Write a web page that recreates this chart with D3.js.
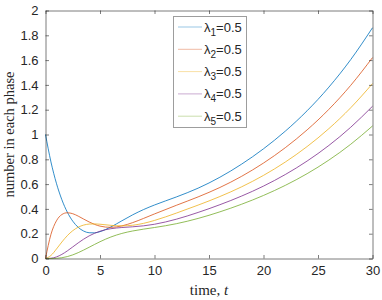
<!DOCTYPE html>
<html>
<head>
<meta charset="utf-8">
<script src="https://cdn.jsdelivr.net/npm/d3@7"></script>
<style>
  body { margin: 0; background: #fff; }
  svg { display: block; }
</style>
</head>
<body>
<svg id="chart" width="382" height="300"></svg>
<script>
// time points, t
var times = [0, 0.5, 1, 1.5, 2, 2.5, 3, 3.5, 4, 4.5, 5, 6, 7, 8, 9, 10, 12, 14, 16, 18, 20, 22, 24, 26, 28, 30];

// number in each phase
var phase1 = [1, 0.7788, 0.6069, 0.4742, 0.3740, 0.3011, 0.2514, 0.2213, 0.2077, 0.2069, 0.2166, 0.2547, 0.3037, 0.3522, 0.3949, 0.4315, 0.4961, 0.5672, 0.6554, 0.7614, 0.8847, 1.0269, 1.1913, 1.3821, 1.6037, 1.8608];
var phase2 = [0, 0.1947, 0.3033, 0.3545, 0.3689, 0.3612, 0.3418, 0.3180, 0.2948, 0.2752, 0.2611, 0.2511, 0.2628, 0.2894, 0.3234, 0.3595, 0.4289, 0.4968, 0.5728, 0.6631, 0.7697, 0.8936, 1.0371, 1.2032, 1.3961, 1.6200];
var phase3 = [0, 0.0243, 0.0758, 0.1329, 0.1841, 0.2244, 0.2525, 0.2696, 0.2776, 0.2790, 0.2764, 0.2675, 0.2629, 0.2682, 0.2836, 0.3070, 0.3660, 0.4306, 0.4998, 0.5783, 0.6703, 0.7778, 0.9027, 1.0475, 1.2154, 1.4103];
var phase4 = [0, 0.0020, 0.0126, 0.0332, 0.0613, 0.0933, 0.1258, 0.1560, 0.1822, 0.2035, 0.2200, 0.2403, 0.2498, 0.2557, 0.2636, 0.2762, 0.3169, 0.3715, 0.4339, 0.5038, 0.5840, 0.6772, 0.7858, 0.9119, 1.0581, 1.2277];
var phase5 = [0, 0.0001, 0.0016, 0.0062, 0.0153, 0.0292, 0.0471, 0.0681, 0.0906, 0.1134, 0.1353, 0.1734, 0.2020, 0.2220, 0.2368, 0.2499, 0.2805, 0.3231, 0.3763, 0.4380, 0.5085, 0.5898, 0.6841, 0.7938, 0.9211, 1.0688];

var legendSub = ["1", "2", "3", "4", "5"];
var legendValue = "=0.5";

var xTicks = [0, 5, 10, 15, 20, 25, 30];
var yTicks = [0, 0.2, 0.4, 0.6, 0.8, 1, 1.2, 1.4, 1.6, 1.8, 2];

var colors = ["#0072BD", "#D95319", "#EDB120", "#7E2F8E", "#77AC30"];
var series = [phase1, phase2, phase3, phase4, phase5];

var svg = d3.select("#chart");
var axisColor = "#262626";

var x = d3.scaleLinear().domain([0, 30]).range([45.5, 372.5]);
var y = d3.scaleLinear().domain([0, 2]).range([258.5, 10.5]);

// curves
var line = d3.line()
    .x(function(d, i) { return x(times[i]); })
    .y(function(d) { return y(d); })
    .curve(d3.curveMonotoneX);

svg.append("g").selectAll("path")
    .data(series)
    .enter().append("path")
    .attr("d", line)
    .attr("fill", "none")
    .attr("stroke", function(d, i) { return colors[i]; })
    .attr("stroke-opacity", 0.8)
    .attr("stroke-width", 1);

// axes, ticks pointing inward like matlab
function styleAxis(g) {
    g.select(".domain").attr("stroke", axisColor).attr("stroke-opacity", 0.6);
    g.selectAll(".tick line").attr("stroke", axisColor).attr("stroke-opacity", 0.6);
    g.selectAll(".tick text")
        .attr("fill", axisColor)
        .style("font-family", "'Liberation Sans', Arial, sans-serif")
        .style("font-size", "13px");
}

svg.append("g")
    .attr("transform", "translate(0," + y(0) + ")")
    .call(d3.axisBottom(x).tickValues(xTicks).tickFormat(d3.format("d"))
        .tickSizeInner(-3.5).tickSizeOuter(0).tickPadding(7))
    .call(styleAxis);

svg.append("g")
    .attr("transform", "translate(0," + y(2) + ")")
    .call(d3.axisTop(x).tickValues(xTicks).tickFormat("")
        .tickSizeInner(-3.5).tickSizeOuter(0))
    .call(styleAxis);

svg.append("g")
    .attr("transform", "translate(" + x(0) + ",0)")
    .call(d3.axisLeft(y).tickValues(yTicks).tickFormat(d3.format("~g"))
        .tickSizeInner(-3.5).tickSizeOuter(0).tickPadding(7))
    .call(styleAxis);

svg.append("g")
    .attr("transform", "translate(" + x(30) + ",0)")
    .call(d3.axisRight(y).tickValues(yTicks).tickFormat("")
        .tickSizeInner(-3.5).tickSizeOuter(0))
    .call(styleAxis);

// axis titles
svg.append("text")
    .attr("x", (x(0) + x(30)) / 2)
    .attr("y", 295)
    .attr("text-anchor", "middle")
    .attr("fill", axisColor)
    .style("font-family", "'Liberation Serif', 'Times New Roman', serif")
    .style("font-size", "15px")
    .text("time, ")
    .append("tspan")
    .style("font-style", "italic")
    .text("t");

svg.append("text")
    .attr("transform", "translate(13.5," + (y(0) + y(2)) / 2 + ") rotate(-90)")
    .attr("text-anchor", "middle")
    .attr("fill", axisColor)
    .style("font-family", "'Liberation Serif', 'Times New Roman', serif")
    .style("font-size", "14.5px")
    .text("number in each phase");

// legend
var legend = svg.append("g");
legend.append("rect")
    .attr("x", 173.5).attr("y", 16.5)
    .attr("width", 73).attr("height", 111)
    .attr("fill", "#fff")
    .attr("stroke", axisColor)
    .attr("stroke-opacity", 0.45);

var rows = legend.selectAll("g.row")
    .data(legendSub)
    .enter().append("g")
    .attr("class", "row")
    .attr("transform", function(d, i) { return "translate(0," + (27 + i * 22.3) + ")"; });

rows.append("line")
    .attr("x1", 178).attr("x2", 202)
    .attr("y1", 0).attr("y2", 0)
    .attr("stroke", function(d, i) { return colors[i]; })
    .attr("stroke-opacity", 0.4)
    .attr("stroke-width", 1);

var labels = rows.append("text")
    .attr("x", 204)
    .attr("y", 4.5)
    .attr("fill", axisColor)
    .style("font-family", "'Liberation Sans', Arial, sans-serif")
    .style("font-size", "13px");
labels.append("tspan").text("\u03bb");
labels.append("tspan")
    .attr("dy", 4)
    .style("font-size", "10px")
    .text(function(d) { return d; });
labels.append("tspan")
    .attr("dy", -4)
    .text(legendValue);
</script>
</body>
</html>
